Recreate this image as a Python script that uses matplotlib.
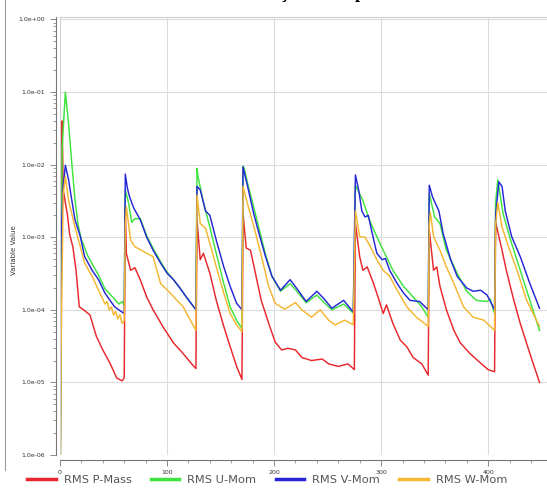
import matplotlib
matplotlib.use("Agg")
import matplotlib.pyplot as plt
from matplotlib.lines import Line2D
from matplotlib.ticker import MultipleLocator, LogLocator, NullFormatter, FuncFormatter

# RMS residuals per outer iteration (one line per cycle)
pmass_it = [0, 2, 3, 5, 7, 9, 12, 15, 18, 22, 28, 34, 40, 47, 53, 58, 60,
            61, 62, 66, 70, 75, 81, 87, 96, 106, 115, 123, 127,
            128, 131, 134, 140, 146, 153, 159, 165, 170,
            171, 174, 178, 182, 188, 195, 201, 207, 213, 220, 226, 235, 245, 251, 260, 269, 275,
            276, 280, 283, 287, 293, 299, 302, 305, 311, 318, 324, 330, 338, 344,
            345, 349, 352, 355, 361, 368, 374, 383, 392, 400, 406,
            407, 413, 417, 424, 430, 439, 448]
pmass = [1e-7, 4.0e-2, 4.5e-3, 3.0e-3, 2.0e-3, 1.1e-3, 7.4e-4, 3.5e-4, 1.1e-4, 1.0e-4, 8.5e-5, 4.3e-5, 2.8e-5, 1.8e-5, 1.15e-5, 1.05e-5, 1.15e-5,
         2.6e-3, 6.0e-4, 3.5e-4, 3.8e-4, 2.6e-4, 1.5e-4, 1.0e-4, 5.9e-5, 3.5e-5, 2.5e-5, 1.8e-5, 1.55e-5,
         1.74e-3, 4.9e-4, 6.0e-4, 3.2e-4, 1.35e-4, 5.9e-5, 3.1e-5, 1.66e-5, 1.1e-5,
         2.1e-3, 7.1e-4, 6.6e-4, 3.5e-4, 1.35e-4, 6.5e-5, 3.6e-5, 2.8e-5, 2.95e-5, 2.8e-5, 2.2e-5, 2.0e-5, 2.1e-5, 1.8e-5, 1.66e-5, 1.8e-5, 1.5e-5,
         1.55e-3, 5.4e-4, 3.5e-4, 3.9e-4, 2.3e-4, 1.23e-4, 8.9e-5, 1.17e-4, 6.5e-5, 3.8e-5, 3.1e-5, 2.2e-5, 1.8e-5, 1.26e-5,
         1.26e-3, 3.5e-4, 3.9e-4, 2.1e-4, 1.0e-4, 5.2e-5, 3.5e-5, 2.5e-5, 1.9e-5, 1.5e-5, 1.4e-5,
         1.6e-3, 6.6e-4, 3.5e-4, 1.35e-4, 6.5e-5, 2.5e-5, 1.0e-5]

umom_it = [0, 2, 5, 8, 11, 14, 17, 20, 26, 36, 42, 51, 55, 58, 60,
           61, 64, 67, 70, 75, 81, 87, 94, 100, 106, 112, 118, 127,
           128, 129, 134, 140, 146, 153, 159, 165, 170,
           171, 172, 176, 181, 185, 192, 198, 206, 215, 222, 230, 240, 247, 254, 265, 274,
           276, 283, 289, 296, 302, 311, 321, 330, 338, 344,
           345, 350, 355, 361, 371, 380, 389, 399, 402, 406,
           407, 409, 414, 421, 430, 439, 448]
umom = [1e-7, 1.7e-2, 1.0e-1, 3.7e-2, 1.05e-2, 3.3e-3, 1.45e-3, 9.3e-4, 5.5e-4, 3.0e-4, 1.95e-4, 1.4e-4, 1.2e-4, 1.3e-4, 1.15e-4,
        4.5e-3, 3.0e-3, 1.6e-3, 1.8e-3, 1.8e-3, 1.05e-3, 7.0e-4, 4.6e-4, 3.3e-4, 2.6e-4, 2.0e-4, 1.5e-4, 1.0e-4,
        8.9e-3, 6.8e-3, 3.0e-3, 1.38e-3, 6.0e-4, 2.3e-4, 1.1e-4, 7.2e-5, 5.5e-5,
        9.5e-3, 9.0e-3, 5.0e-3, 2.6e-3, 1.5e-3, 5.8e-4, 2.9e-4, 1.8e-4, 2.3e-4, 1.75e-4, 1.25e-4, 1.6e-4, 1.25e-4, 1.0e-4, 1.2e-4, 9.0e-5,
        5.2e-3, 3.2e-3, 1.74e-3, 1.02e-3, 6.6e-4, 3.5e-4, 2.1e-4, 1.5e-4, 1.1e-4, 7.9e-5,
        4.0e-3, 1.9e-3, 1.55e-3, 6.6e-4, 3.2e-4, 1.8e-4, 1.35e-4, 1.3e-4, 1.4e-4, 8.9e-5,
        3.0e-3, 6.2e-3, 2.1e-3, 9.1e-4, 3.5e-4, 1.35e-4, 5.2e-5]

vmom_it = [0, 1, 3, 5, 8, 10, 14, 19, 23, 30, 36, 42, 51, 58, 60,
           61, 63, 65, 69, 75, 81, 87, 94, 100, 106, 112, 118, 127,
           128, 131, 136, 140, 146, 153, 159, 165, 170,
           171, 176, 181, 185, 192, 198, 206, 215, 222, 230, 240, 247, 254, 265, 274,
           276, 279, 282, 285, 288, 291, 296, 301, 304, 308, 315, 321, 327, 336, 344,
           345, 348, 354, 358, 365, 371, 380, 386, 393, 399, 403, 406,
           407, 410, 413, 416, 422, 430, 439, 448]
vmom = [1e-7, 1.0e-3, 5.0e-3, 9.8e-3, 6.2e-3, 4.0e-3, 1.74e-3, 1.02e-3, 5.4e-4, 3.5e-4, 2.6e-4, 1.7e-4, 1.1e-4, 9.3e-5, 8.9e-5,
        7.4e-3, 4.7e-3, 3.6e-3, 2.5e-3, 1.74e-3, 1.0e-3, 6.6e-4, 4.4e-4, 3.2e-4, 2.6e-4, 2.0e-4, 1.5e-4, 1.0e-4,
        5.0e-3, 4.5e-3, 2.3e-3, 2.0e-3, 9.1e-4, 3.9e-4, 2.1e-4, 1.23e-4, 1.0e-4,
        9.3e-3, 4.5e-3, 2.1e-3, 1.26e-3, 5.4e-4, 2.9e-4, 1.86e-4, 2.6e-4, 1.9e-4, 1.3e-4, 1.8e-4, 1.4e-4, 1.05e-4, 1.35e-4, 9.3e-5,
        7.2e-3, 4.5e-3, 2.3e-3, 1.9e-3, 2.0e-3, 1.26e-3, 6.0e-4, 4.9e-4, 5.1e-4, 3.5e-4, 2.3e-4, 1.7e-4, 1.35e-4, 1.3e-4, 1.0e-4,
        5.2e-3, 3.6e-3, 2.3e-3, 1.12e-3, 4.9e-4, 2.9e-4, 2.0e-4, 1.8e-4, 1.86e-4, 1.6e-4, 1.23e-4, 1.0e-4,
        2.0e-3, 5.8e-3, 5.0e-3, 2.3e-3, 1.02e-3, 5.4e-4, 2.3e-4, 1.05e-4]

wmom_it = [0, 1, 3, 5, 8, 11, 14, 19, 23, 30, 36, 40, 42, 44, 46, 48, 50, 52, 54, 56, 58, 60,
           61, 62, 66, 70, 76, 81, 87, 94, 103, 115, 127,
           128, 131, 136, 140, 146, 153, 159, 165, 170,
           171, 176, 182, 189, 195, 201, 210, 220, 226, 235, 243, 251, 257, 266, 274,
           276, 280, 285, 290, 296, 302, 308, 315, 324, 333, 344,
           345, 346, 349, 355, 361, 368, 377, 386, 396, 406,
           407, 409, 413, 419, 427, 436, 448]
wmom = [1e-7, 2.5e-5, 4.0e-3, 6.8e-3, 3.2e-3, 2.1e-3, 1.38e-3, 7.4e-4, 4.4e-4, 2.9e-4, 1.86e-4, 1.4e-4, 1.2e-4, 1.3e-4, 1.0e-4, 1.1e-4, 8.5e-5, 9.5e-5, 7.5e-5, 8.5e-5, 6.5e-5, 7.0e-5,
        1.5e-3, 2.6e-3, 9.1e-4, 7.4e-4, 6.6e-4, 6.0e-4, 5.4e-4, 2.3e-4, 1.7e-4, 1.1e-4, 5.2e-5,
        3.8e-3, 1.55e-3, 1.32e-3, 8.3e-4, 3.9e-4, 1.7e-4, 8.9e-5, 6.2e-5, 5.0e-5,
        5.0e-3, 2.6e-3, 1.26e-3, 4.9e-4, 2.1e-4, 1.23e-4, 1.02e-4, 1.26e-4, 1.0e-4, 7.9e-5, 1.0e-4, 7.2e-5, 6.2e-5, 7.2e-5, 6.2e-5,
        2.3e-3, 1.02e-3, 1.0e-3, 7.4e-4, 4.9e-4, 3.5e-4, 2.9e-4, 1.86e-4, 1.1e-4, 7.9e-5, 5.9e-5,
        1.5e-3, 2.2e-3, 1.02e-3, 6.6e-4, 3.9e-4, 2.3e-4, 1.1e-4, 7.9e-5, 7.2e-5, 5.2e-5,
        1.5e-3, 3.0e-3, 1.38e-3, 7.4e-4, 3.5e-4, 1.35e-4, 5.9e-5]

labels = ["RMS P-Mass", "RMS U-Mom", "RMS V-Mom", "RMS W-Mom"]
colors = ["#e8262c", "#3ee33e", "#2626d6", "#f5b731"]

W, H = 547, 491
fig = plt.figure(figsize=(W / 100, H / 100), dpi=100)
ax = fig.add_axes([60 / W, 1 - 455 / H, (W - 60) / W, (455 - 17) / H])

series = [(pmass_it, pmass), (umom_it, umom), (vmom_it, vmom), (wmom_it, wmom)]
for (it, val), lab, col in zip(series, labels, colors):
    ax.plot(it, val, color=col, lw=1.05, label=lab)

ax.set_yscale("log")
ax.set_ylim(1e-6, 1.08)
ax.set_xlim(0, 455)

ax.yaxis.set_major_locator(LogLocator(base=10, numticks=10))
ax.yaxis.set_minor_locator(LogLocator(base=10, subs=range(2, 10), numticks=10))
ax.yaxis.set_minor_formatter(NullFormatter())
ax.yaxis.set_major_formatter(FuncFormatter(lambda v, _: f"{v:.1e}"))
ax.xaxis.set_major_locator(MultipleLocator(100))
ax.xaxis.set_minor_locator(MultipleLocator(20))

ax.grid(True, which="major", color="#dcdcdc", lw=0.8)
ax.axvline(0, color="#cfcfcf", lw=0.8)
ax.spines["right"].set_visible(False)
ax.spines["top"].set_color("#cfcfcf")
ax.spines["left"].set_position(("outward", 3))
ax.spines["bottom"].set_position(("outward", 3.6))
ax.spines["left"].set_color("#777777")
ax.spines["bottom"].set_color("#777777")
ax.tick_params(which="major", length=4, width=0.6, color="#777777",
               labelsize=4.5, labelcolor="#333333")
ax.tick_params(which="minor", length=2.2, width=0.5, color="#777777")

fig.text(14 / W, 1 - 250 / H, "Variable Value", rotation=90, fontsize=5,
         color="#333333", ha="center", va="center")

# screenshot border on the left
fig.add_artist(Line2D([5 / W, 5 / W], [1 - 470 / H, 1.0], color="#9a9a9a", lw=0.8))

# bottom of the caption line above the captured screenshot
fig.text(283 / W, 1 + 2 / H, "ç", fontsize=13, fontweight="bold",
         family="Liberation Serif", ha="center", va="baseline")
fig.text(360 / W, 1 + 2 / H, "p", fontsize=13, fontweight="bold",
         family="Liberation Serif", ha="center", va="baseline")

handles = [Line2D([], [], color=c, lw=2.5) for c in colors]
leg = fig.legend(handles, labels, loc="center", bbox_to_anchor=(267 / W, 1 - 480 / H),
                 ncol=4, frameon=False, fontsize=8.2, handlelength=2.5,
                 handletextpad=0.7, columnspacing=1.7, borderpad=0.1)
for t in leg.get_texts():
    t.set_color("#555555")

fig.savefig("out.png", dpi=100)
